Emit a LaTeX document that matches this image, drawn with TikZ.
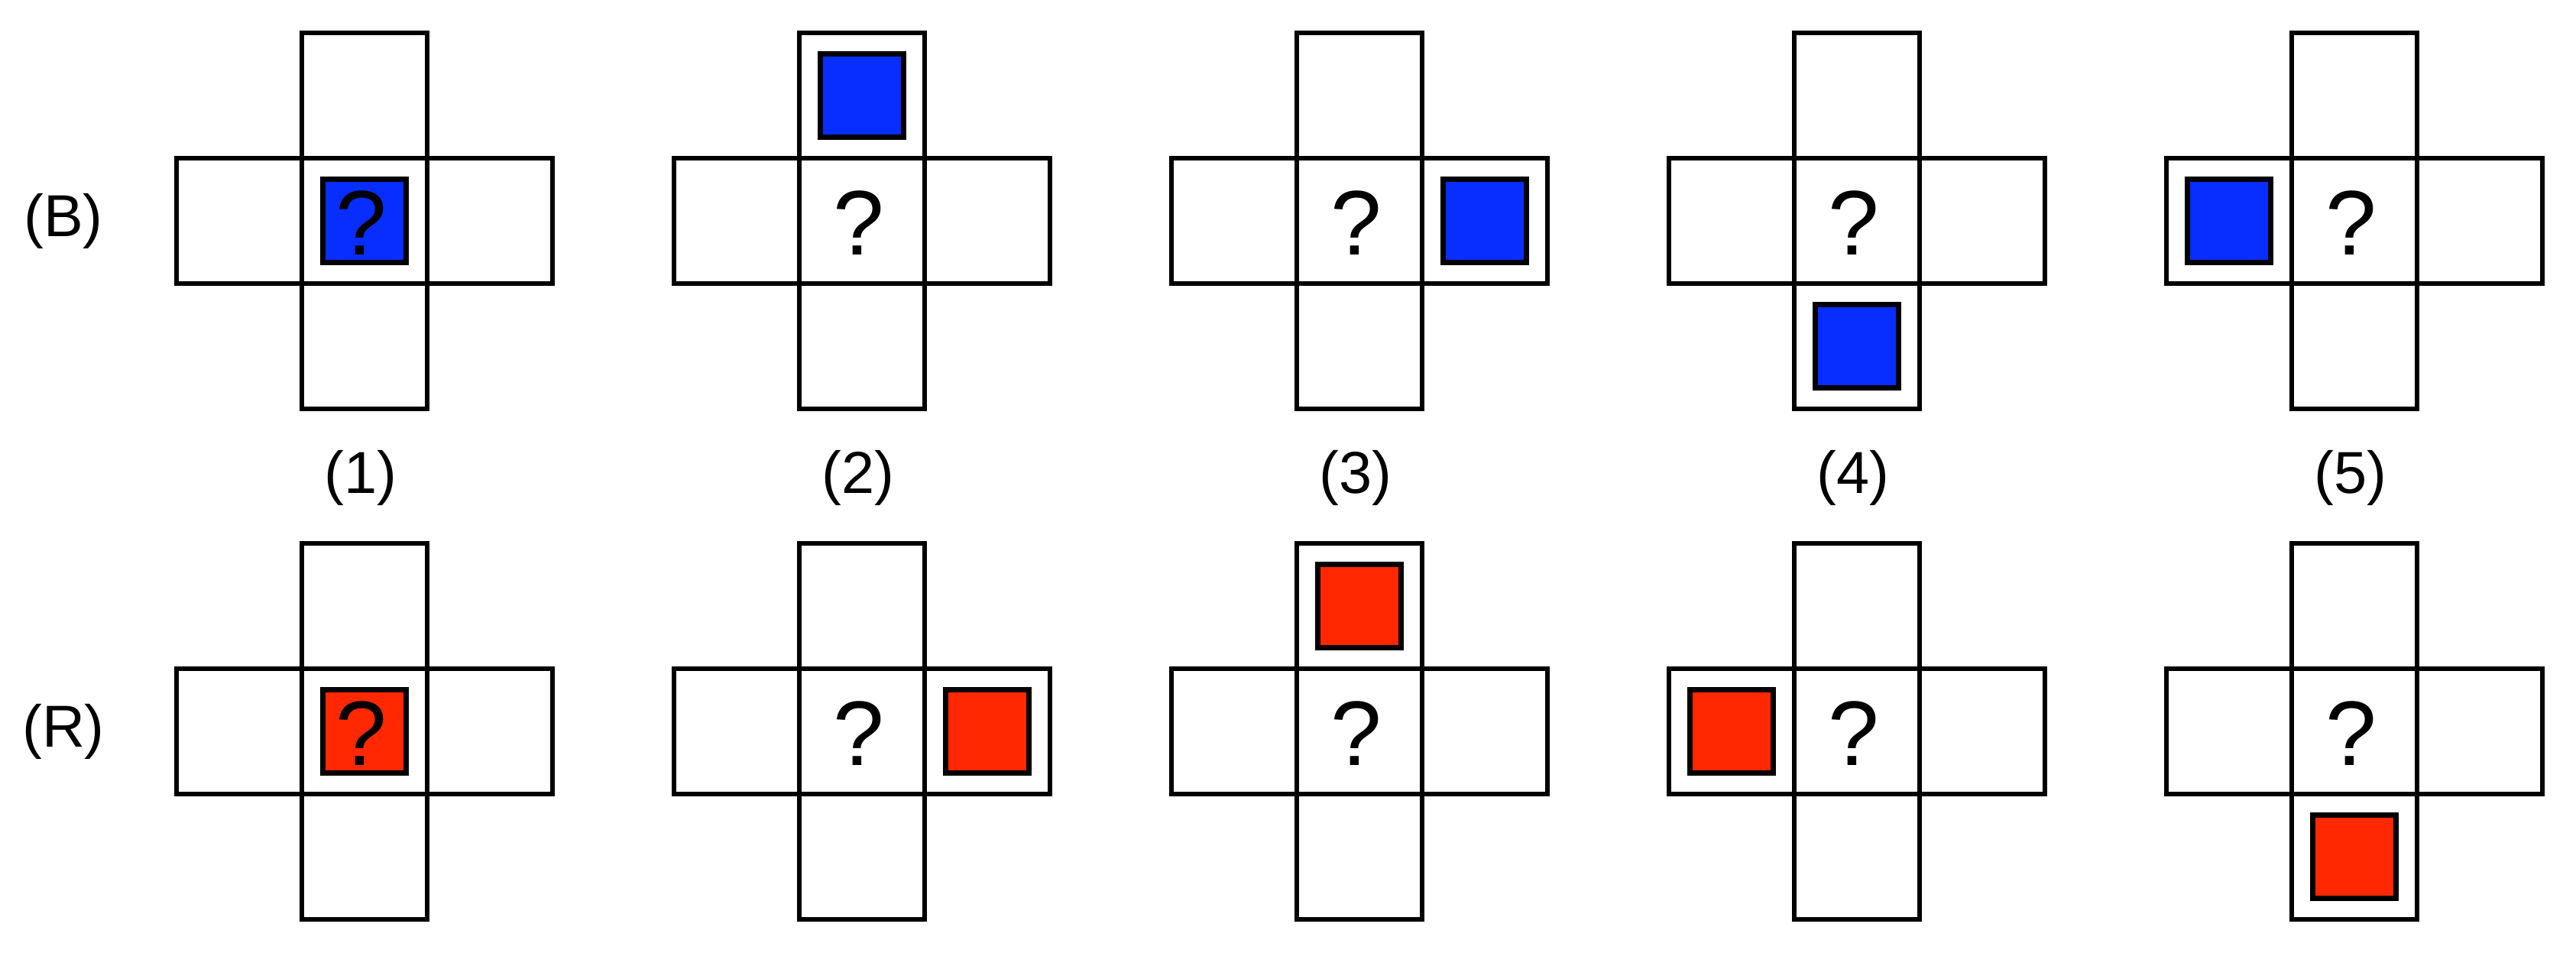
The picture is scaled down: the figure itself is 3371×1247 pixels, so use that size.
\documentclass[tikz,border=0pt]{standalone}
\usepackage{fontspec}
\setmainfont{Liberation Sans}
\usetikzlibrary{positioning}
\definecolor{sqblue}{RGB}{8,46,255}
\definecolor{sqred}{RGB}{255,40,0}
\begin{document}
\begin{tikzpicture}[x=0.2pt,y=-0.2pt,
  cell/.style={draw, line width=1.2pt, minimum size=32.8pt, inner sep=0pt, outer sep=0pt},
  token/.style={draw, line width=1.3pt, minimum size=21.8pt, inner sep=0pt},
  qmark/.style={font=\fontsize{24}{24}\selectfont, inner sep=0pt},
  lab/.style={font=\fontsize{15.5}{15.5}\selectfont, inner sep=0pt}]
\useasboundingbox (0,0) rectangle (3371,1247);
\foreach \r/\y in {b/289, r/957}{
  \foreach \i/\x in {1/477, 2/1128, 3/1779, 4/2430, 5/3081}{
    \node[cell] (\r\i c) at (\x,\y) {};
    \node[cell, above=0pt of \r\i c] (\r\i n) {};
    \node[cell, below=0pt of \r\i c] (\r\i s) {};
    \node[cell, left=0pt of \r\i c] (\r\i w) {};
    \node[cell, right=0pt of \r\i c] (\r\i e) {};
  }
}
% blue tokens
\foreach \k in {b1c, b2n, b3e, b4s, b5w}{
  \node[token, fill=sqblue] (t\k) at (\k) {};
}
% red tokens
\foreach \k in {r1c, r2e, r3n, r4w, r5s}{
  \node[token, fill=sqred] (t\k) at (\k) {};
}
% question marks
\foreach \r in {b, r}{
  \foreach \i in {1,...,5}{
    \node[qmark] (q\r\i) at ([xshift=-0.8pt,yshift=-0.6pt]\r\i c) {?};
  }
}
% column labels
\foreach \i/\x in {1/472, 2/1123, 3/1774, 4/2425, 5/3076}{
  \node[lab] (n\i) at (\x,625) {(\i)};
}
% row labels
\node[lab] (rowB) at (83,289) {(B)};
\node[lab] (rowR) at (83,957) {(R)};
\end{tikzpicture}
\end{document}
